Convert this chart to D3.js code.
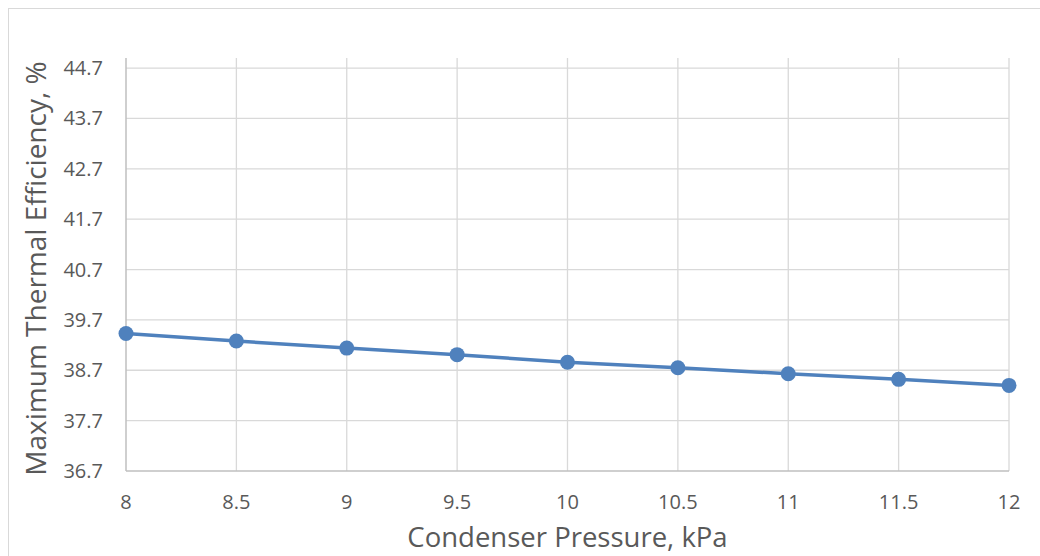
<!DOCTYPE html>
<html>
<head>
<meta charset="utf-8">
<script src="https://cdn.jsdelivr.net/npm/d3@7/dist/d3.min.js"></script>
<style>
  html, body { margin: 0; padding: 0; background: #fff; }
  svg { display: block; }
  text { font-family: "Open Sans", "Liberation Sans", sans-serif; fill: #595959; }
</style>
</head>
<body>
<svg id="chart" width="1040" height="556"></svg>
<script>
// Condenser pressure (kPa) vs. maximum thermal efficiency (%)
const pressures = [8, 8.5, 9, 9.5, 10, 10.5, 11, 11.5, 12];
const efficiencies = [39.43, 39.28, 39.14, 39.01, 38.86, 38.75, 38.63, 38.52, 38.40];
const yTicks = [36.7, 37.7, 38.7, 39.7, 40.7, 41.7, 42.7, 43.7, 44.7];
const xTicks = [8, 8.5, 9, 9.5, 10, 10.5, 11, 11.5, 12];
const xTitle = "Condenser Pressure, kPa";
const yTitle = "Maximum Thermal Efficiency, %";

const svg = d3.select("#chart");
const W = 1040, H = 556;

// Chart frame
svg.append("rect")
  .attr("x", 8.5).attr("y", 8.5)
  .attr("width", W).attr("height", H)
  .attr("fill", "#fff").attr("stroke", "#d9d9d9").attr("stroke-width", 1);

const plot = { left: 126, right: 1009, top: 58, bottom: 471 };

const x = d3.scaleLinear().domain([8, 12]).range([plot.left, plot.right]);
const y = d3.scaleLinear().domain([36.7, 44.9]).range([plot.bottom, plot.top]);

// Horizontal gridlines
svg.append("g")
  .selectAll("line").data(yTicks.slice(1)).join("line")
  .attr("x1", plot.left).attr("x2", plot.right)
  .attr("y1", d => y(d)).attr("y2", d => y(d))
  .attr("stroke", "#d9d9d9").attr("stroke-width", 1.3);

// Vertical gridlines
svg.append("g")
  .selectAll("line").data(xTicks.slice(1)).join("line")
  .attr("x1", d => x(d)).attr("x2", d => x(d))
  .attr("y1", plot.top).attr("y2", plot.bottom)
  .attr("stroke", "#d9d9d9").attr("stroke-width", 1.3);

// Axis lines
svg.append("line")
  .attr("x1", plot.left).attr("x2", plot.left)
  .attr("y1", plot.top).attr("y2", plot.bottom)
  .attr("stroke", "#bfbfbf").attr("stroke-width", 1.5);
svg.append("line")
  .attr("x1", plot.left).attr("x2", plot.right)
  .attr("y1", plot.bottom).attr("y2", plot.bottom)
  .attr("stroke", "#bfbfbf").attr("stroke-width", 1.5);

// Y tick labels
svg.append("g")
  .selectAll("text").data(yTicks).join("text")
  .attr("x", 103).attr("y", d => y(d))
  .attr("dy", "0.35em")
  .attr("text-anchor", "end")
  .style("font-size", "20px")
  .text(d => d.toFixed(1));

// X tick labels
svg.append("g")
  .selectAll("text").data(xTicks).join("text")
  .attr("x", d => x(d)).attr("y", 509)
  .attr("text-anchor", "middle")
  .style("font-size", "20px")
  .text(d => d);

// Axis titles
svg.append("text")
  .attr("x", (plot.left + plot.right) / 2).attr("y", 547)
  .attr("text-anchor", "middle")
  .style("font-size", "27.5px")
  .text(xTitle);

svg.append("text")
  .attr("transform", `translate(46, ${(plot.top + plot.bottom) / 2 + 4}) rotate(-90)`)
  .attr("text-anchor", "middle")
  .style("font-size", "28px")
  .text(yTitle);

// Series line and markers
const color = "#4f81bd";
const data = pressures.map((p, i) => ({ p, e: efficiencies[i] }));

svg.append("path")
  .datum(data)
  .attr("fill", "none")
  .attr("stroke", color)
  .attr("stroke-width", 3.5)
  .attr("stroke-linejoin", "round")
  .attr("d", d3.line().x(d => x(d.p)).y(d => y(d.e)));

svg.append("g")
  .selectAll("circle").data(data).join("circle")
  .attr("cx", d => x(d.p)).attr("cy", d => y(d.e))
  .attr("r", 7.5)
  .attr("fill", color);
</script>
</body>
</html>
